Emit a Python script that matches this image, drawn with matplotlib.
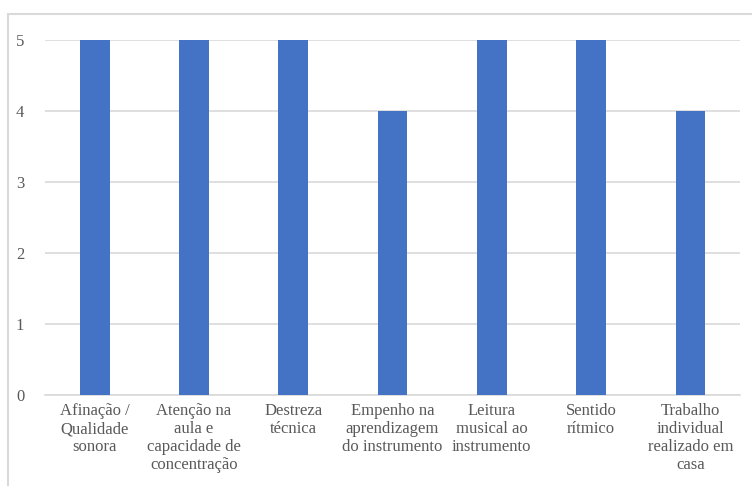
import matplotlib
matplotlib.use("Agg")
import matplotlib.pyplot as plt
from matplotlib.patches import Rectangle

categorias = [
    "Afinação /\nQualidade\nsonora",
    "Atenção na\naula e\ncapacidade de\nconcentração",
    "Destreza\ntécnica",
    "Empenho na\naprendizagem\ndo instrumento",
    "Leitura\nmusical ao\ninstrumento",
    "Sentido\nrítmico",
    "Trabalho\nindividual\nrealizado em\ncasa",
]
valores = [5, 5, 5, 4, 5, 5, 4]
ticks_y = [0, 1, 2, 3, 4, 5]

plt.rcParams["font.family"] = ["Liberation Serif", "DejaVu Serif"]

fig = plt.figure(figsize=(7.52, 4.86), dpi=100)
ax = fig.add_axes([0.0598, 0.1872, 0.9243, 0.7305])

x = range(len(categorias))
ax.bar(x, valores, width=0.30, color="#4472C4", zorder=3)

ax.set_xlim(-0.5, len(categorias) - 0.5)
ax.set_ylim(0, 5)
ax.set_yticks(ticks_y)
ax.set_xticks(list(x))
ax.set_xticklabels(categorias, fontsize=12, color="#595959", linespacing=1.17)
ax.tick_params(axis="y", labelsize=12, labelcolor="#595959", length=0, pad=15)
ax.tick_params(axis="x", length=0, pad=6)

ax.grid(axis="y", color="#d9d9d9", linewidth=1.2, zorder=0)
for lado in ["top", "right", "left"]:
    ax.spines[lado].set_visible(False)
ax.spines["bottom"].set_color("#d9d9d9")
ax.spines["bottom"].set_linewidth(1.2)

# marco del área del gráfico
fig.add_artist(Rectangle((0.0113, -0.1), 1.2, 0.9712 + 0.1,
                         transform=fig.transFigure, fill=False,
                         edgecolor="#d9d9d9", linewidth=1.5))

fig.savefig("out.png", dpi=100)
